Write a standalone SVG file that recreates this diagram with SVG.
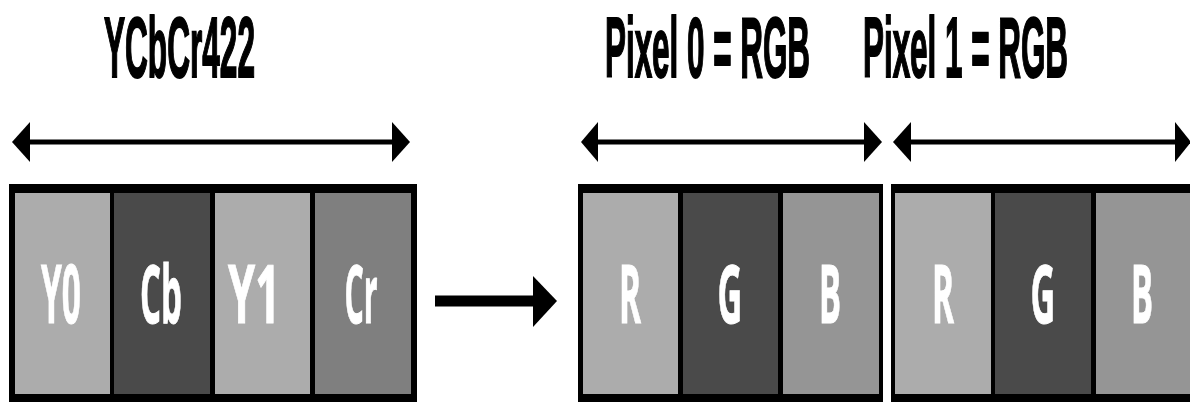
<svg xmlns="http://www.w3.org/2000/svg" width="1190" height="402" viewBox="0 0 1190 402">
<style>
.title{font-family:"Liberation Sans","Open Sans",sans-serif;font-weight:bold;font-size:85px;fill:#000;stroke:#000;stroke-width:2}
.lbl{font-family:"Open Sans","Liberation Sans",sans-serif;font-weight:bold;font-size:80px;fill:#fff;text-anchor:middle;stroke:#fff;stroke-width:1}
.frame{fill:#000}
.light{fill:#acacac}
.dark{fill:#4a4a4a}
.mid{fill:#7f7f7f}
.blue{fill:#959595}
.line{stroke:#000;stroke-width:5;fill:none}
.head{fill:#000}
</style>
<rect width="1190" height="402" fill="#fff"/>
<g id="titles">
<text class="title" transform="translate(104,77) scale(0.37,1)" textLength="408" lengthAdjust="spacingAndGlyphs">YCbCr422</text>
<text class="title" transform="translate(605,77) scale(0.37,1)" textLength="554" lengthAdjust="spacingAndGlyphs">Pixel 0 = RGB</text>
<text class="title" transform="translate(863,77) scale(0.37,1)" textLength="554" lengthAdjust="spacingAndGlyphs">Pixel 1 = RGB</text>
</g>
<g id="ycbcr">
<rect class="frame" x="9" y="184" width="408" height="220"/>
<rect class="light" x="15" y="193" width="95" height="201"/>
<rect class="dark" x="114" y="193" width="96" height="201"/>
<rect class="light" x="215" y="193" width="95" height="201"/>
<rect class="mid" x="315" y="193" width="96" height="201"/>
<text class="lbl" transform="translate(61,323) scale(0.4,1)" textLength="100" lengthAdjust="spacingAndGlyphs">Y0</text>
<text class="lbl" transform="translate(161,323) scale(0.4,1)" textLength="105" lengthAdjust="spacingAndGlyphs">Cb</text>
<text class="lbl" transform="translate(254,323) scale(0.4,1)" textLength="130" lengthAdjust="spacingAndGlyphs">Y1</text>
<text class="lbl" transform="translate(361,323) scale(0.4,1)" textLength="83" lengthAdjust="spacingAndGlyphs">Cr</text>
</g>
<g id="pixel0">
<rect class="frame" x="578" y="184" width="305" height="220"/>
<rect class="light" x="583" y="193" width="95" height="201"/>
<rect class="dark" x="683" y="193" width="95" height="201"/>
<rect class="blue" x="783" y="193" width="96" height="201"/>
<text class="lbl" transform="translate(630,323) scale(0.4,1)" textLength="55" lengthAdjust="spacingAndGlyphs">R</text>
<text class="lbl" transform="translate(730,323) scale(0.4,1)" textLength="62" lengthAdjust="spacingAndGlyphs">G</text>
<text class="lbl" transform="translate(830,323) scale(0.4,1)" textLength="55" lengthAdjust="spacingAndGlyphs">B</text>
</g>
<g id="pixel1">
<rect class="frame" x="891" y="184" width="305" height="220"/>
<rect class="light" x="895" y="193" width="96" height="201"/>
<rect class="dark" x="995" y="193" width="96" height="201"/>
<rect class="blue" x="1096" y="193" width="100" height="201"/>
<text class="lbl" transform="translate(943,323) scale(0.4,1)" textLength="55" lengthAdjust="spacingAndGlyphs">R</text>
<text class="lbl" transform="translate(1043,323) scale(0.4,1)" textLength="62" lengthAdjust="spacingAndGlyphs">G</text>
<text class="lbl" transform="translate(1142,323) scale(0.4,1)" textLength="55" lengthAdjust="spacingAndGlyphs">B</text>
</g>
<g id="connectors">
<line class="line" x1="28" y1="142" x2="395" y2="142"/>
<polygon class="head" points="12,142 30,122 30,162"/>
<polygon class="head" points="410,142 392,122 392,162"/>
<line class="line" x1="596" y1="142" x2="865" y2="142"/>
<polygon class="head" points="581,142 598,122 598,162"/>
<polygon class="head" points="882,142 864,122 864,162"/>
<line class="line" x1="910" y1="142" x2="1177" y2="142"/>
<polygon class="head" points="893,142 911,122 911,162"/>
<polygon class="head" points="1191,142 1175,122 1175,162"/>
<line stroke="#000" stroke-width="11" x1="435" y1="301" x2="535" y2="301"/>
<polygon class="head" points="557,301 533,276 533,327"/>
</g>
</svg>
